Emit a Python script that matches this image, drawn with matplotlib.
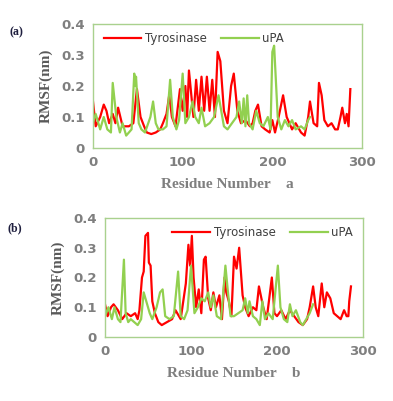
import matplotlib.pyplot as plt

# panel (a)
tyr_a_res = [0, 3, 8, 12, 15, 18, 22, 25, 28, 33, 40, 45, 49, 53, 57, 60, 65, 70, 75, 78,
             82, 85, 88, 92, 97, 100, 103, 105, 107, 112, 115, 118, 121, 124, 127, 130,
             133, 136, 139, 142, 146, 150, 154, 157, 161, 165, 170, 175, 178, 181, 184,
             188, 192, 197, 200, 203, 207, 212, 216, 222, 226, 232, 236, 240, 242, 246,
             250, 252, 255, 258, 262, 266, 270, 273, 276, 278, 281, 283, 285, 287]
tyr_a_val = [0.15, 0.07, 0.10, 0.14, 0.12, 0.08, 0.11, 0.08, 0.13, 0.07, 0.07, 0.08, 0.19, 0.10,
             0.07, 0.05, 0.045, 0.05, 0.06, 0.08, 0.11, 0.17, 0.10, 0.07, 0.19, 0.12, 0.20,
             0.10, 0.25, 0.10, 0.22, 0.12, 0.23, 0.12, 0.23, 0.12, 0.22, 0.10, 0.31, 0.28,
             0.12, 0.08, 0.20, 0.24, 0.12, 0.08, 0.09, 0.07, 0.08, 0.12, 0.14, 0.07, 0.06,
             0.05, 0.09, 0.05, 0.10, 0.17, 0.10, 0.06, 0.08, 0.05, 0.04, 0.10, 0.15, 0.08,
             0.07, 0.21, 0.17, 0.09, 0.07, 0.08, 0.06, 0.06, 0.10, 0.13, 0.08, 0.11, 0.07,
             0.19]
upa_a_res = [0, 3, 8, 12, 16, 20, 22, 26, 30, 33, 37, 40, 43, 46, 47, 48, 51, 54, 58, 64,
             67, 70, 73, 78, 82, 86, 89, 93, 96, 100, 103, 107, 111, 114, 118, 121, 125,
             130, 135, 140, 143, 146, 150, 155, 160, 163, 166, 168, 170, 172, 174, 178,
             182, 186, 190, 195, 198, 200, 202, 206, 210, 214, 218, 222, 226, 232, 236,
             240, 242]
upa_a_val = [0.08, 0.11, 0.06, 0.10, 0.06, 0.05, 0.21, 0.10, 0.05, 0.08, 0.04, 0.05, 0.06,
             0.24, 0.20, 0.23, 0.08, 0.06, 0.05, 0.10, 0.15, 0.08, 0.06, 0.06, 0.07, 0.22,
             0.10, 0.06, 0.09, 0.24, 0.08, 0.10, 0.15, 0.10, 0.08, 0.13, 0.07, 0.08, 0.10,
             0.17, 0.12, 0.07, 0.06, 0.08, 0.10, 0.15, 0.08, 0.16, 0.07, 0.17, 0.08, 0.06,
             0.12, 0.08, 0.07, 0.10, 0.06, 0.31, 0.33, 0.10, 0.06, 0.09, 0.07, 0.09, 0.06,
             0.07, 0.06, 0.09, 0.10]

# panel (b)
tyr_b_res = [0, 3, 7, 10, 15, 20, 25, 30, 35, 38, 40, 43, 45, 47, 50, 51, 53, 55, 58, 62,
             66, 72, 78, 82, 88, 94, 97, 99, 101, 103, 106, 109, 112, 115, 117, 120, 123,
             126, 129, 133, 136, 139, 141, 144, 147, 150, 153, 156, 160, 163, 167, 172,
             176, 179, 184, 188, 194, 197, 200, 205, 210, 215, 220, 225, 230, 235, 238,
             242, 245, 248, 252, 255, 258, 262, 266, 270, 274, 278, 281, 283, 284, 286]
tyr_b_val = [0.11, 0.07, 0.10, 0.11, 0.09, 0.06, 0.08, 0.07, 0.08, 0.06, 0.09, 0.20, 0.22,
             0.34, 0.35, 0.25, 0.24, 0.12, 0.08, 0.05, 0.04, 0.05, 0.06, 0.09, 0.06, 0.18,
             0.31, 0.24, 0.34, 0.20, 0.10, 0.16, 0.08, 0.26, 0.27, 0.13, 0.09, 0.15, 0.10,
             0.14, 0.06, 0.20, 0.15, 0.12, 0.07, 0.27, 0.23, 0.30, 0.14, 0.10, 0.07, 0.10,
             0.09, 0.17, 0.10, 0.06, 0.20, 0.08, 0.07, 0.09, 0.06, 0.09, 0.07, 0.05, 0.04,
             0.06, 0.10, 0.17, 0.10, 0.07, 0.18, 0.10, 0.15, 0.13, 0.08, 0.07, 0.06, 0.09,
             0.07, 0.07, 0.12, 0.17]
upa_b_res = [0, 4, 8, 11, 15, 18, 22, 24, 27, 30, 34, 38, 42, 45, 48, 52, 55, 60, 64, 67,
             70, 75, 80, 85, 88, 92, 96, 100, 104, 108, 112, 116, 120, 123, 126, 130, 135,
             140, 143, 146, 150, 155, 160, 163, 166, 168, 172, 176, 180, 183, 186, 190,
             195, 201, 204, 208, 212, 215, 218, 222, 227, 230, 234, 238, 242]
upa_b_val = [0.07, 0.10, 0.06, 0.10, 0.06, 0.05, 0.26, 0.08, 0.05, 0.06, 0.05, 0.04, 0.06,
             0.15, 0.12, 0.08, 0.06, 0.10, 0.15, 0.16, 0.07, 0.06, 0.07, 0.22, 0.07, 0.06,
             0.09, 0.24, 0.08, 0.10, 0.13, 0.12, 0.15, 0.10, 0.14, 0.07, 0.06, 0.24, 0.15,
             0.07, 0.07, 0.08, 0.09, 0.13, 0.08, 0.12, 0.07, 0.06, 0.04, 0.12, 0.06, 0.08,
             0.06, 0.24, 0.10, 0.06, 0.05, 0.11, 0.07, 0.09, 0.05, 0.04, 0.06, 0.08, 0.11]

yticks = [0, 0.1, 0.2, 0.3, 0.4]
ytick_labels = ["0", "0.1", "0.2", "0.3", "0.4"]
xticks = [0, 100, 200, 300]

RED = "#ff0000"
GREEN = "#92d050"
GRAY = "#7f7f7f"

fig = plt.figure(figsize=(3.93, 4.01), dpi=100)

panels = [
    ([93 / 393, 253 / 401, 269 / 393, 124 / 401], tyr_a_res, tyr_a_val, upa_a_res, upa_a_val,
     "Residue Number    a", "(a)", (10 / 393, 1 - 32 / 401), (0.0, 1.02)),
    ([105 / 393, 64 / 401, 258 / 393, 119 / 401], tyr_b_res, tyr_b_val, upa_b_res, upa_b_val,
     "Residue Number    b", "(b)", (7 / 393, 1 - 228 / 401), (0.22, 1.02)),
]

for rect, tr, tv, ur, uv, xlab, tag, tagpos, legpos in panels:
    ax = fig.add_axes(rect)
    ax.plot(tr, tv, color=RED, lw=1.6, label="Tyrosinase")
    ax.plot(ur, uv, color=GREEN, lw=1.6, label="uPA")
    ax.set_xlim(0, 300)
    ax.set_ylim(0, 0.4)
    ax.set_xticks(xticks)
    ax.set_yticks(yticks)
    ax.set_yticklabels(ytick_labels)
    ax.tick_params(length=0, labelsize=9.5, labelcolor=GRAY, pad=6)
    for lbl in ax.get_xticklabels() + ax.get_yticklabels():
        lbl.set_fontweight("bold")
    for sp in ax.spines.values():
        sp.set_color("#a9d18e")
        sp.set_linewidth(1.0)
    ax.set_xlabel(xlab, family="Liberation Serif", fontweight="bold", fontsize=11,
                  color=GRAY, labelpad=6)
    ax.set_ylabel("RMSF(nm)", family="Liberation Serif", fontweight="bold", fontsize=11,
                  color="#595959", labelpad=6)
    leg = ax.legend(loc="upper left", bbox_to_anchor=legpos, ncol=2, frameon=False,
                    fontsize=8.5, handlelength=3.2, columnspacing=1.2, handletextpad=0.3)
    for t in leg.get_texts():
        t.set_color("#404040")
    fig.text(tagpos[0], tagpos[1], tag, family="Liberation Serif", fontweight="bold",
             fontsize=8.5, color="#1f1f3f", va="center")

fig.savefig("out.png", dpi=100)
